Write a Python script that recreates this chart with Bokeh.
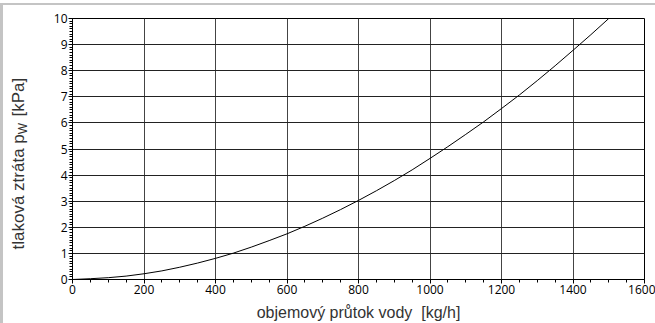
import math
from bokeh.plotting import figure
from bokeh.models import Range1d, FixedTicker, Label, Div
from bokeh.layouts import row, column
from bokeh.embed import file_html
from bokeh.resources import INLINE

# data
flow = [0, 50, 100, 150, 200, 250, 300, 350, 400, 450, 500, 550, 600, 650, 700, 750,
        800, 850, 900, 950, 1000, 1050, 1100, 1150, 1200, 1250, 1300, 1350, 1400, 1450, 1500]
dp = [0.0, 0.03, 0.07, 0.13, 0.22, 0.33, 0.47, 0.63, 0.81, 1.01, 1.24, 1.49, 1.75, 2.04, 2.35, 2.68,
      3.03, 3.4, 3.79, 4.2, 4.64, 5.09, 5.56, 6.04, 6.55, 7.07, 7.62, 8.19, 8.78, 9.38, 10.0]
x_ticks = [0, 200, 400, 600, 800, 1000, 1200, 1400, 1600]
y_ticks = [0, 1, 2, 3, 4, 5, 6, 7, 8, 9, 10]
x_minor = [v for v in range(0, 1601, 50)]
y_minor = [v / 10 for v in range(0, 101)]
x_label = "objemový průtok vody\u00a0 [kg/h]"
y_label_parts = ["tlaková ztráta", "p", "W", "[kPa]"]

TOTAL_W = 655
STRIP_W = 3
LBL_W = 33
FIG_H = 318
B_TOP, B_BOTTOM = 13, 44
FRAME_H = FIG_H - B_TOP - B_BOTTOM
lab_col = "#333333"
gray = "#c4c4c4"

# ---- main chart ----
p = figure(width=TOTAL_W - LBL_W - STRIP_W, height=FIG_H, output_backend="svg", toolbar_location=None,
           x_range=Range1d(0, 1600), y_range=Range1d(0, 10),
           min_border_left=36, min_border_right=11, min_border_top=B_TOP, min_border_bottom=B_BOTTOM)
p.background_fill_color = "white"
p.border_fill_color = "white"
p.outline_line_color = "black"
p.outline_line_width = 1
p.outline_line_alpha = 1

for ax, ticks, minor in ((p.xaxis[0], x_ticks, x_minor), (p.yaxis[0], y_ticks, y_minor)):
    ax.ticker = FixedTicker(ticks=ticks, minor_ticks=minor)
    ax.axis_line_color = "black"
    ax.major_tick_line_color = "black"
    ax.minor_tick_line_color = "black"
    ax.major_tick_in = 0
    ax.major_tick_out = 4
    ax.minor_tick_in = 0
    ax.minor_tick_out = 3
    ax.major_label_text_font = "Open Sans"
    ax.major_label_text_font_size = "12px"
    ax.major_label_text_color = "black"
    ax.major_label_standoff = 1

p.yaxis[0].axis_label = None
xa = p.xaxis[0]
xa.axis_label = x_label
xa.axis_label_text_font = "Liberation Sans"
xa.axis_label_text_font_size = "16px"
xa.axis_label_text_font_style = "normal"
xa.axis_label_text_color = lab_col
xa.axis_label_standoff = 7

p.xgrid.ticker = FixedTicker(ticks=x_ticks)
p.ygrid.ticker = FixedTicker(ticks=y_ticks)
p.xgrid.grid_line_color = "#444444"
p.ygrid.grid_line_color = "#222222"
p.xgrid.grid_line_width = 1
p.ygrid.grid_line_width = 1

p.line(flow, dp, line_color="black", line_width=1)

# ---- y-axis title panel (pixel coordinates, frame aligned with the main frame) ----
q = figure(width=LBL_W, height=FIG_H, output_backend="svg", toolbar_location=None,
           x_range=Range1d(0, LBL_W), y_range=Range1d(0, FRAME_H),
           x_axis_location=None, y_axis_location=None,
           min_border_left=0, min_border_right=0, min_border_top=B_TOP, min_border_bottom=B_BOTTOM)
q.grid.visible = False
q.outline_line_color = None
q.background_fill_color = "white"
q.border_fill_color = "white"

y0 = 30
offsets = [0, 105.7, 115.2, 133]
xs = [15, 15, 19.5, 15]
sizes = ["17px", "17px", "12px", "17px"]
for txt, off, xx, sz in zip(y_label_parts, offsets, xs, sizes):
    q.add_layout(Label(x=xx, y=y0 + off, angle=math.pi / 2,
                       text=txt, text_font="Liberation Sans", text_font_size=sz,
                       text_align="left", text_baseline="middle", text_color=lab_col))

top_line = Div(text="", width=TOTAL_W, height=2, margin=(3, 0, 0, 0),
               styles={"background-color": gray})
left_strip = Div(text="", width=STRIP_W, height=FIG_H, margin=(0, 0, 0, 0),
                 styles={"background-color": gray})

layout = column(top_line, row(left_strip, q, p, spacing=0), spacing=0)
open("out.html", "w").write(file_html(layout, INLINE))
